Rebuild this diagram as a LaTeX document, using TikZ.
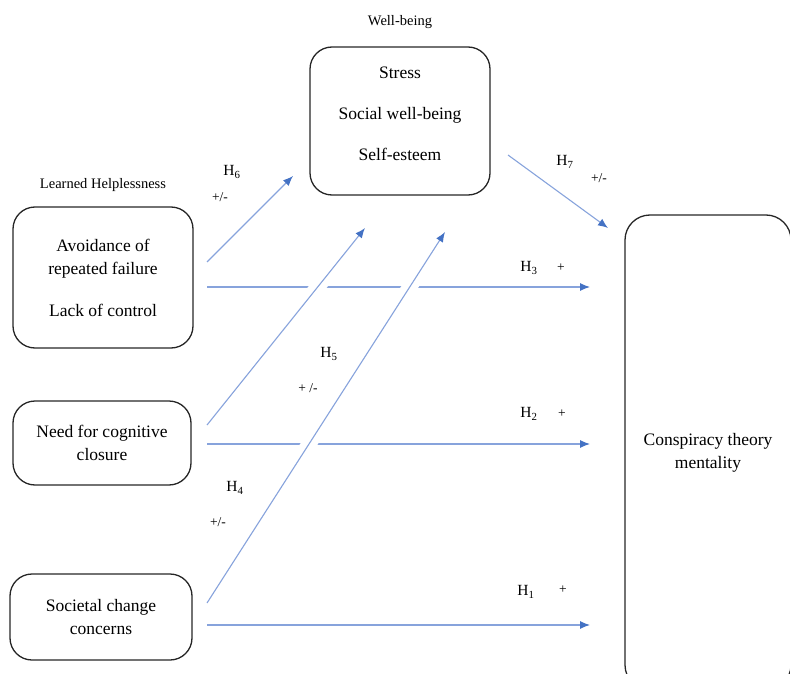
\documentclass[tikz,border=0pt]{standalone}
\usepackage{fontspec}
\setmainfont{Liberation Serif}
\usetikzlibrary{arrows.meta}
\definecolor{lineblue}{RGB}{135,163,220}
\definecolor{tipblue}{RGB}{68,114,196}
\begin{document}
\begin{tikzpicture}[x=1pt,y=-1pt,
  box/.style={draw=black!85,line width=1.3pt,rounded corners=22pt,align=center,inner sep=0pt,font=\fontsize{17.5}{23}\selectfont},
  txt/.style={align=center,inner sep=0pt,font=\fontsize{17.5}{23}\selectfont},
  capt/.style={inner sep=0pt,font=\fontsize{14.5}{16}\selectfont},
  hyp/.style={inner sep=0pt,font=\fontsize{15.5}{17}\selectfont},
  sgn/.style={inner sep=0pt,font=\fontsize{13.5}{15}\selectfont},
  conn/.style={draw=lineblue,line width=1.1pt,-{Latex[length=10pt,width=8pt,color=tipblue]}},
  cross/.style={preaction={draw=white,line width=15pt,-}}]
\useasboundingbox (0,0) rectangle (790,674);

% boxes
\node[box,minimum width=180pt,minimum height=141pt] (lh) at (103,277.5)
  {Avoidance of\\repeated failure\\[19pt]Lack of control};
\node[box,minimum width=180pt,minimum height=148pt] (wb) at (400,121) {};
\node[txt] (wbt) at (400,113.5) {Stress\\[18pt]Social well-being\\[18pt]Self-esteem};
\node[box,minimum width=178pt,minimum height=84pt] (nfc) at (102,443)
  {Need for cognitive\\closure};
\node[box,minimum width=182pt,minimum height=86pt] (scc) at (101,617)
  {Societal change\\concerns};
\node[box,rounded corners=25pt,minimum width=166pt,minimum height=475pt] (ctm) at (708,452.5)
  {Conspiracy theory\\mentality};

% captions
\node[capt] (lhcap) at (103,185) {Learned Helplessness};
\node[capt] (wbcap) at (400,22) {Well-being};

% connector end points
\coordinate (h6s) at (207,262);  \coordinate (h6e) at (293,176);
\coordinate (h7s) at (508,155);  \coordinate (h7e) at (608,228);
\coordinate (h3s) at (207,287);  \coordinate (h3e) at (590,287);
\coordinate (h2s) at (207,444);  \coordinate (h2e) at (590,444);
\coordinate (h1s) at (207,625);  \coordinate (h1e) at (590,625);
\coordinate (h5s) at (207,425);  \coordinate (h5e) at (365,228);
\coordinate (h4s) at (207,603);  \coordinate (h4e) at (445,232);

% horizontal connectors
\draw[conn] (h3s) -- (h3e);
\draw[conn] (h2s) -- (h2e);
\draw[conn] (h1s) -- (h1e);
% diagonal connectors
\draw[conn] (h6s) -- (h6e);
\draw[conn] (h7s) -- (h7e);
\draw[conn,cross] (h5s) -- (h5e);
\draw[conn,cross] (h4s) -- (h4e);

% hypothesis labels
\node[hyp] (l6) at (232,172) {H\textsubscript{6}};
\node[sgn] (s6) at (220,197) {+/-};
\node[hyp] (l7) at (565,162) {H\textsubscript{7}};
\node[sgn] (s7) at (599,178) {+/-};
\node[hyp] (l3) at (529,268) {H\textsubscript{3}};
\node[sgn] (s3) at (561,268) {+};
\node[hyp] (l5) at (329,354) {H\textsubscript{5}};
\node[sgn] (s5) at (308,388) {+ /-};
\node[hyp] (l2) at (529,414) {H\textsubscript{2}};
\node[sgn] (s2) at (562,414) {+};
\node[hyp] (l4) at (235,488) {H\textsubscript{4}};
\node[sgn] (s4) at (218,522) {+/-};
\node[hyp] (l1) at (526,592) {H\textsubscript{1}};
\node[sgn] (s1) at (563,590) {+};
\end{tikzpicture}
\end{document}
